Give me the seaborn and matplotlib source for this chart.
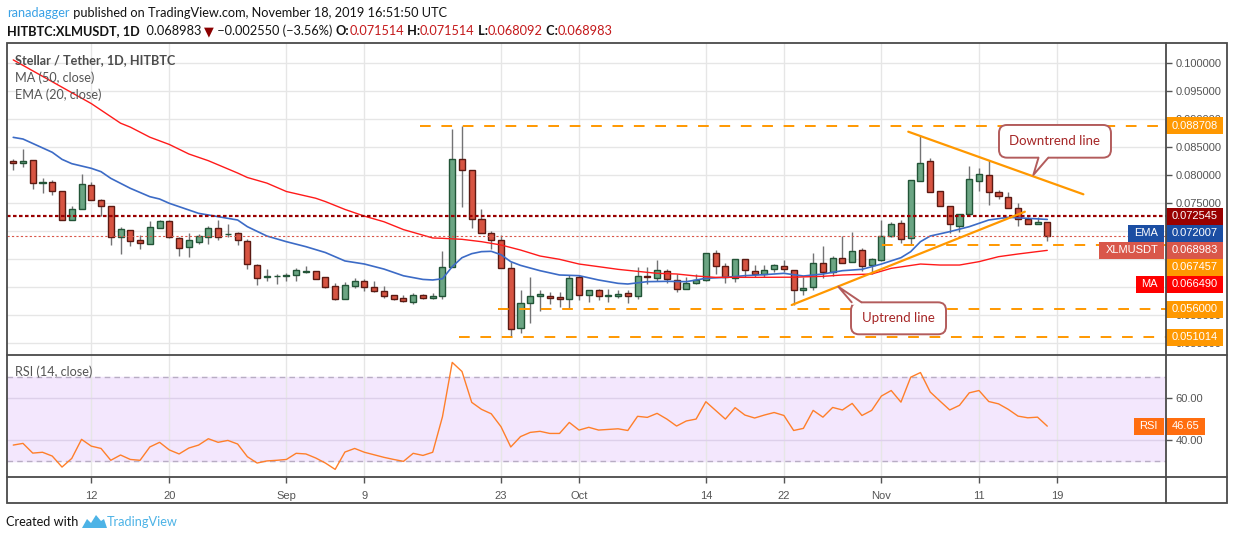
import numpy as np
import pandas as pd
import matplotlib
matplotlib.use("Agg")
import matplotlib.pyplot as plt
import matplotlib.dates as mdates
from matplotlib.patches import Rectangle, FancyBboxPatch, Polygon
import seaborn as sns

# ---- values: XLM/USDT daily on HitBTC, 2019-08-04 .. 2019-11-18 ----
start = pd.Timestamp("2019-08-04")

opens = [
    0.08239, 0.08203, 0.08257, 0.07852, 0.07870, 0.07703, 0.07185, 0.07382, 0.07810, 0.07542,
    0.07435, 0.06893, 0.07007, 0.06828, 0.06769, 0.07054, 0.07167, 0.06870, 0.06703, 0.06792,
    0.06893, 0.07042, 0.06935, 0.06953, 0.06810, 0.06382, 0.06173, 0.06185, 0.06191, 0.06203,
    0.06269, 0.06275, 0.06167, 0.06007, 0.05786, 0.06019, 0.06096, 0.05989, 0.05917, 0.05846,
    0.05792, 0.05733, 0.05846, 0.05792, 0.05828, 0.06346, 0.08275, 0.08078, 0.07203, 0.06953,
    0.06828, 0.06328, 0.05257, 0.05703, 0.05828, 0.05828, 0.05810, 0.05775, 0.06167, 0.05846,
    0.05947, 0.05828, 0.05828, 0.05882, 0.05828, 0.06191, 0.06150, 0.06287, 0.06126, 0.05953,
    0.06060, 0.06114, 0.06596, 0.06364, 0.06150, 0.06489, 0.06275, 0.06221, 0.06310, 0.06364,
    0.06304, 0.05941, 0.05989, 0.06418, 0.06257, 0.06507, 0.06435, 0.06650, 0.06382, 0.06483,
    0.06900, 0.07132, 0.06864, 0.07894, 0.08239, 0.07709, 0.07447, 0.07090, 0.07292, 0.07888,
    0.07989, 0.07685, 0.07608, 0.07400, 0.07203, 0.07114, 0.071514,
]
highs = [
    0.08280, 0.08459, 0.08257, 0.07935, 0.07900, 0.07703, 0.07441, 0.08012, 0.07870, 0.07566,
    0.07435, 0.07066, 0.07019, 0.06917, 0.07173, 0.07185, 0.07191, 0.06882, 0.06953, 0.06941,
    0.07078, 0.07191, 0.07120, 0.06971, 0.06852, 0.06400, 0.06316, 0.06227, 0.06239, 0.06328,
    0.06376, 0.06281, 0.06173, 0.06072, 0.06078, 0.06150, 0.06132, 0.06096, 0.06013, 0.05858,
    0.05846, 0.05882, 0.05870, 0.05888, 0.06638, 0.08810, 0.08871, 0.08078, 0.07388, 0.06995,
    0.06917, 0.06447, 0.05941, 0.06179, 0.05941, 0.05900, 0.05900, 0.06203, 0.06203, 0.05947,
    0.05965, 0.05953, 0.05941, 0.05941, 0.06352, 0.06352, 0.06477, 0.06316, 0.06227, 0.06167,
    0.06227, 0.06596, 0.06656, 0.06418, 0.06489, 0.06489, 0.06388, 0.06388, 0.06406, 0.06471,
    0.06304, 0.06179, 0.06596, 0.06727, 0.06554, 0.06906, 0.06977, 0.06691, 0.06507, 0.07191,
    0.07156, 0.07185, 0.07900, 0.08709, 0.08292, 0.07709, 0.07447, 0.07304, 0.08150, 0.08114,
    0.08263, 0.07733, 0.07685, 0.07501, 0.07239, 0.07239, 0.071514,
]
lows = [
    0.08084, 0.08144, 0.07745, 0.07679, 0.07643, 0.07185, 0.07185, 0.07382, 0.07542, 0.07263,
    0.06751, 0.06590, 0.06733, 0.06679, 0.06769, 0.07042, 0.06876, 0.06554, 0.06537, 0.06763,
    0.06763, 0.06834, 0.06893, 0.06751, 0.06322, 0.06037, 0.06108, 0.06054, 0.06108, 0.06108,
    0.06251, 0.06132, 0.05983, 0.05769, 0.05786, 0.05983, 0.05929, 0.05906, 0.05804, 0.05769,
    0.05733, 0.05697, 0.05780, 0.05780, 0.05786, 0.06346, 0.07429, 0.07054, 0.06953, 0.06668,
    0.06328, 0.05101, 0.05180, 0.05358, 0.05572, 0.05691, 0.05644, 0.05602, 0.05763, 0.05733,
    0.05769, 0.05727, 0.05798, 0.05715, 0.05787, 0.06054, 0.06108, 0.06072, 0.05912, 0.05953,
    0.06048, 0.06108, 0.06227, 0.06060, 0.06090, 0.06179, 0.06179, 0.06179, 0.06263, 0.06269,
    0.05673, 0.05852, 0.05941, 0.06162, 0.06197, 0.06429, 0.06435, 0.06275, 0.06227, 0.06465,
    0.06894, 0.06787, 0.06751, 0.07882, 0.07685, 0.07435, 0.06965, 0.06971, 0.07292, 0.07709,
    0.07459, 0.07560, 0.07400, 0.07084, 0.07114, 0.07114, 0.068092,
]
closes = [
    0.08203, 0.08239, 0.07846, 0.07864, 0.07703, 0.07185, 0.07382, 0.07828, 0.07542, 0.07435,
    0.06893, 0.07025, 0.06810, 0.06774, 0.07060, 0.07167, 0.06882, 0.06685, 0.06828, 0.06899,
    0.07042, 0.06893, 0.06947, 0.06828, 0.06400, 0.06150, 0.06191, 0.06191, 0.06209, 0.06292,
    0.06281, 0.06144, 0.06001, 0.05786, 0.06025, 0.06096, 0.05989, 0.05929, 0.05840, 0.05786,
    0.05751, 0.05846, 0.05792, 0.05828, 0.06346, 0.08275, 0.08078, 0.07203, 0.06953, 0.06828,
    0.06328, 0.05239, 0.05703, 0.05828, 0.05870, 0.05804, 0.05775, 0.06150, 0.05846, 0.05947,
    0.05828, 0.05852, 0.05870, 0.05828, 0.06185, 0.06167, 0.06292, 0.06132, 0.05953, 0.06066,
    0.06114, 0.06596, 0.06370, 0.06167, 0.06489, 0.06292, 0.06221, 0.06292, 0.06382, 0.06310,
    0.05935, 0.05983, 0.06418, 0.06257, 0.06507, 0.06429, 0.06632, 0.06364, 0.06489, 0.06900,
    0.07114, 0.06852, 0.07900, 0.08203, 0.07685, 0.07435, 0.07120, 0.07304, 0.07923, 0.08007,
    0.07685, 0.07614, 0.07400, 0.07203, 0.07114, 0.07153, 0.068983,
]
rsi = [
    37.7, 38.5, 33.9, 34.3, 32.5, 27.3, 31.4, 40.4, 37.2, 36.1,
    30.5, 33.0, 30.9, 30.5, 36.8, 39.0, 35.4, 33.5, 36.3, 37.7,
    40.7, 39.0, 39.9, 38.2, 32.2, 29.2, 30.2, 30.5, 30.9, 33.8,
    33.5, 31.6, 29.2, 26.2, 34.4, 36.1, 34.3, 33.1, 31.9, 30.9,
    30.0, 33.8, 32.8, 34.3, 51.1, 76.8, 72.5, 57.9, 54.6, 52.5,
    46.4, 36.8, 41.7, 43.7, 44.2, 43.2, 43.2, 48.4, 44.8, 46.1,
    44.8, 45.1, 45.4, 44.6, 51.3, 50.8, 52.7, 50.0, 46.7, 49.1,
    50.0, 58.2, 54.1, 50.0, 55.4, 51.9, 50.5, 51.9, 53.1, 51.7,
    44.6, 45.6, 54.1, 50.9, 55.5, 54.3, 57.4, 51.7, 54.1, 60.9,
    63.5, 58.0, 69.8, 72.0, 62.8, 58.5, 54.3, 56.5, 62.4, 63.5,
    58.3, 57.2, 54.6, 51.4, 50.6, 50.9, 46.65,
]

# EMA(20) and MA(50) read at these day offsets from the start
ema_day = [0, 1, 4, 5, 6, 8, 9, 10, 12, 14, 15, 16, 18, 19, 21, 23, 24, 26, 28, 30,
           32, 34, 36, 38, 40, 42, 43, 44, 45, 46, 47, 48, 49, 50, 51, 52, 54, 56, 58, 60,
           62, 63, 65, 67, 69, 71, 73, 75, 77, 79, 81, 83, 85, 87, 89, 91, 92, 93, 94, 96,
           98, 100, 102, 104, 106]
ema_val = [0.08667, 0.08637, 0.08400, 0.08274, 0.08197, 0.08114, 0.08054, 0.07935, 0.07757, 0.07608,
           0.07566, 0.07489, 0.07370, 0.07310, 0.07251, 0.07191, 0.07072, 0.06905, 0.06804, 0.06715,
           0.06610, 0.06460, 0.06405, 0.06315, 0.06195, 0.06130, 0.06120, 0.06142, 0.06358, 0.06518,
           0.06590, 0.06626, 0.06632, 0.06572, 0.06447, 0.06381, 0.06286, 0.06209, 0.06197, 0.06120,
           0.06060, 0.06048, 0.06090, 0.06096, 0.06090, 0.06150, 0.06167, 0.06197, 0.06215, 0.06239,
           0.06191, 0.06227, 0.06286, 0.06310, 0.06405, 0.06518, 0.06626, 0.06804, 0.06905, 0.06983,
           0.07072, 0.07191, 0.07239, 0.07221, 0.07201]
ma_day = [0, 4, 8, 11, 12, 14, 16, 18, 20, 23, 24, 26, 28, 31, 32, 34, 36, 38, 40, 43,
          44, 46, 48, 50, 52, 54, 56, 58, 60, 62, 64, 66, 68, 70, 72, 76, 80, 83, 85, 88,
          90, 93, 95, 97, 99, 101, 103, 106]
ma_val = [0.1005, 0.0966, 0.0927, 0.0892, 0.0885, 0.0867, 0.0854, 0.0837, 0.0825, 0.0803,
          0.0795, 0.0785, 0.0770, 0.0758, 0.0752, 0.0738, 0.0726, 0.0716, 0.0702, 0.0687,
          0.06864, 0.06846, 0.06804, 0.06745, 0.06655, 0.06548, 0.06489, 0.06405, 0.06358, 0.06310,
          0.06274, 0.06239, 0.06227, 0.06191, 0.06167, 0.06167, 0.06170, 0.06185, 0.06209, 0.06227,
          0.06328, 0.06405, 0.06387, 0.06387, 0.06447, 0.06536, 0.06584, 0.06649]

# drawn levels (orange dashed) and the day they start from
level_val = [0.088708, 0.051014, 0.056000, 0.067457]
level_from = [41.7, 45.7, 49.7, 89.1]
resistance = 0.072545
last_price = 0.068983
# trend lines: (day, price) end points
up_day, up_val = [79.8, 103.7], [0.05673, 0.07339]
down_day, down_val = [91.75, 109.7], [0.08768, 0.07650]

# right-axis price labels
lab_price = [0.088708, 0.072545, 0.072007, 0.068983, 0.067457, 0.066490, 0.056000, 0.051014]
lab_color = ["#ff9800", "#990000", "#1b4ea3", "#d9574a", "#ff9800", "#ff0000", "#ff9800", "#ff9800"]
lab_tag = [None, None, "EMA", "XLMUSDT", None, "MA", None, None]

price_ticks = [0.050, 0.055, 0.060, 0.065, 0.070, 0.075, 0.080, 0.085, 0.090, 0.095, 0.100]
tick_dates = ["2019-08-12", "2019-08-20", "2019-09-01", "2019-09-09", "2019-09-23", "2019-10-01",
              "2019-10-14", "2019-10-22", "2019-11-01", "2019-11-11", "2019-11-19"]
tick_labels = ["12", "20", "Sep", "9", "23", "Oct", "14", "22", "Nov", "11", "19"]

# ---- figure ----
sns.set_style("white")
plt.rcParams["font.family"] = ["Lato", "DejaVu Sans"]
NUM = ["Liberation Sans", "DejaVu Sans"]

W, H = 1234, 540
fig = plt.figure(figsize=(W / 100, H / 100), dpi=100)
fig.patch.set_facecolor("white")
ax = fig.add_axes([7 / W, (H - 355) / H, 1159 / W, 312 / H])
ax2 = fig.add_axes([7 / W, (H - 477) / H, 1159 / W, 122 / H], sharex=ax)

dates = start + pd.to_timedelta(np.arange(len(closes)), unit="D")
x = mdates.date2num(dates)
x0 = x[0]

o, hi, lo, c = map(np.array, (opens, highs, lows, closes))
up = c >= o
body_lo = np.minimum(o, c)
body_h = np.maximum(np.abs(c - o), 0.0001)

ax.vlines(x, lo, hi, color="#737375", lw=1, zorder=3)
ax.bar(x[up], body_h[up], bottom=body_lo[up], width=0.62, color="#6ba583",
       edgecolor="#225437", linewidth=1, zorder=4)
ax.bar(x[~up], body_h[~up], bottom=body_lo[~up], width=0.62, color="#d75442",
       edgecolor="#5b1a13", linewidth=1, zorder=4)

ema_df = pd.DataFrame({"x": x0 + np.array(ema_day), "v": ema_val})
ma_df = pd.DataFrame({"x": x0 + np.array(ma_day), "v": ma_val})
sns.lineplot(data=ema_df, x="x", y="v", ax=ax, color="#3c6bc6", lw=1.2, zorder=5)
sns.lineplot(data=ma_df, x="x", y="v", ax=ax, color="#ff1a1a", lw=1.0, zorder=5)

xmin, xmax = x0 - 0.64, x0 + 118.17
ax.set_xlim(xmin, xmax)
ax.set_ylim(0.047804, 0.103518)

for v, d in zip(level_val, level_from):
    ax.hlines(v, x0 + d, xmax, color="#ff9800", lw=1.4, ls=(0, (5.5, 5.5)), zorder=6)
ax.axhline(resistance, color="#990000", lw=1.6, ls=(0, (1.6, 1.1)), zorder=6)
ax.axhline(last_price, color="#d9574a", lw=0.8, ls=(0, (2, 2)), zorder=6)
ax.plot(x0 + np.array(up_day), up_val, color="#ff9800", lw=1.6, zorder=7)
ax.plot(x0 + np.array(down_day), down_val, color="#ff9800", lw=1.6, zorder=7)

# RSI pane
ax2.axhspan(30, 70, color="#f3e7fd", zorder=0)
rsi_df = pd.DataFrame({"x": x, "rsi": rsi})
sns.lineplot(data=rsi_df, x="x", y="rsi", ax=ax2, color="#ff7f2a", lw=1.0, zorder=5)
for lvl in (30, 70):
    ax2.axhline(lvl, color="#b8adc4", lw=1, ls=(0, (4, 3)), zorder=2)
ax2.set_ylim(22.6, 80.3)

# ---- overlay in pixel coordinates (labels, callouts, frame, header) ----
ov = fig.add_axes([0, 0, 1, 1], zorder=10)
ov.set_xlim(0, W)
ov.set_ylim(H, 0)
ov.axis("off")
ov.patch.set_alpha(0)
r = fig.canvas.get_renderer()


def px(a, xv, yv):
    dx, dy = a.transData.transform((xv, yv))
    return dx, H - dy


# right-axis label layout: stack labels that would collide
boxes = []
prev = -1e9
for p, col, tag in sorted(zip(lab_price, lab_color, lab_tag), key=lambda t: -t[0]):
    yc = max(px(ax, x0, p)[1], prev + 17)
    prev = yc
    boxes.append((yc, p, col, tag))


def covered(y):
    return any(b[0] - 8.5 <= y <= b[0] + 8.5 for b in boxes)


# axes styling; price tick labels fully hidden behind a label box are left blank
tick_x = mdates.date2num(pd.to_datetime(tick_dates))
ax2.set_xticks(tick_x)
ax2.set_xticklabels(tick_labels, fontfamily=NUM)
ax.set_yticks(price_ticks)
ylabels = []
for t in price_ticks:
    yt = px(ax, x0, t)[1]
    hidden = all(covered(yt + d) for d in (-4, 0, 4))
    ylabels.append("" if hidden else f"{t:.6f}")
ax.set_yticklabels(ylabels, fontfamily=NUM)
ax2.set_yticks([40, 60])
ax2.set_yticklabels(["40.00", "60.00"], fontfamily=NUM)
for a in (ax, ax2):
    a.set_xlabel("")
    a.set_ylabel("")
    a.yaxis.tick_right()
    for s in a.spines.values():
        s.set_visible(False)
    a.set_axisbelow(True)
    a.tick_params(axis="y", right=True, length=4, width=1, color="#555555",
                  labelsize=8, labelcolor="#555555", pad=3)
ax.tick_params(axis="x", bottom=False, labelbottom=False)
ax2.tick_params(axis="x", bottom=True, length=4, width=1, color="#555555",
                labelsize=8, labelcolor="#555555", pad=6)
ax.grid(True, color="#e6e6e6", lw=1)
ax2.grid(axis="x", color="#e6e6e6", lw=1)
ax2.grid(axis="y", color="#ddd0ea", lw=1)


def width_of(t):
    return t.get_window_extent(r).width


def fit_size(s, target, weight="normal", family=None):
    t = ov.text(0, 0, s, fontsize=10, fontweight=weight, family=family)
    w = width_of(t)
    t.remove()
    return 10 * target / w


def value_box(yc, text, color, tag=None, x_left=1166):
    t = ov.text(x_left + 5.5, yc, text, color="white", fontsize=8, family=NUM,
                va="center", ha="left", zorder=13)
    ov.add_patch(Rectangle((x_left, yc - 8.5), width_of(t) + 11, 17, fc=color, ec="none", zorder=12))
    if tag:
        tt = ov.text(1164 - 6, yc, tag, color="white", fontsize=8, family=NUM,
                     va="center", ha="right", zorder=13)
        tw = width_of(tt) + 12
        ov.add_patch(Rectangle((1164 - tw, yc - 8.5), tw, 17, fc=color, ec="none", zorder=12))


for yc, p, col, tag in boxes:
    value_box(yc, f"{p:.6f}", col, tag)

rsi_y = px(ax2, x[-1], rsi[-1])[1]
value_box(rsi_y, f"{rsi[-1]:.2f}", "#ff6d0f", "RSI")


def callout(days, vals, base_days, tip, text, target_w):
    xa, ya = px(ax, x0 + days[0], vals[0])
    xb, yb = px(ax, x0 + days[1], vals[1])
    tx, ty = px(ax, x0 + tip[0], tip[1])
    edge = "#b35c5c"
    ov.add_patch(FancyBboxPatch((xa, ya), xb - xa, yb - ya, boxstyle="round,pad=0,rounding_size=8",
                                fc="white", ec=edge, lw=1.4, zorder=8))
    edge_y = yb if ty > yb else ya
    inside = -2.5 if ty > yb else 2.5
    b0 = px(ax, x0 + base_days[0], vals[0])[0]
    b1 = px(ax, x0 + base_days[1], vals[0])[0]
    ov.add_patch(Polygon([(b0, edge_y + inside), (b0, edge_y), (tx, ty), (b1, edge_y), (b1, edge_y + inside)],
                         closed=True, fc="white", ec="none", zorder=9))
    ov.plot([b0, tx, b1], [edge_y, ty, edge_y], color=edge, lw=1.4, zorder=9)
    ov.text((xa + xb) / 2, (ya + yb) / 2, text, color="#a52626",
            fontsize=fit_size(text, target_w), ha="center", va="center", zorder=10)


callout((101.05, 112.53), (0.08888, 0.08304), (105.1, 106.1), (104.57, 0.07995), "Downtrend line", 91)
callout((85.88, 95.62), (0.05721, 0.05150), (85.95, 86.95), (84.58, 0.0600), "Uptrend line", 73)

# pane legends
leg_size = fit_size("Stellar / Tether, 1D, HITBTC", 160, "bold")
ov.text(15, 60.5, "Stellar / Tether, 1D, HITBTC", color="#4d4d4d", fontweight="bold",
        fontsize=leg_size, va="center", zorder=11)
ov.text(15, 77.5, "MA (50, close)", color="#555555", fontsize=leg_size, va="center", zorder=11)
ov.text(15, 94.5, "EMA (20, close)", color="#555555", fontsize=leg_size, va="center", zorder=11)
ov.text(15, 372, "RSI (14, close)", color="#555555", fontsize=leg_size, va="center", zorder=11)

# frame
fc = "#4a4a4a"
ov.add_patch(Rectangle((7, 43), 1220, 460, fill=False, ec=fc, lw=1.3, zorder=20))
ov.plot([1166, 1166], [43, 503], color=fc, lw=1.3, zorder=20)
ov.plot([7, 1227], [355, 355], color=fc, lw=1.3, zorder=20)
ov.plot([7, 1227], [477, 477], color=fc, lw=1.3, zorder=20)


def chain(xs, y, pieces, size):
    for s, col, wt in pieces:
        t = ov.text(xs, y, s, color=col, fontweight=wt, fontsize=size, va="center", ha="left",
                    family=["Lato", "DejaVu Sans"], zorder=11)
        xs += width_of(t)


line1 = "ranadagger published on TradingView.com, November 18, 2019 16:51:50 UTC"
hsize = fit_size(line1, 439)
chain(7, 13, [("ranadagger", "#3aa2e6", "normal"),
              (" published on TradingView.com, November 18, 2019 16:51:50 UTC", "#131313", "normal")], hsize)
red = "#c4191b"
chain(7, 31, [("HITBTC:XLMUSDT, 1D", "#131313", "bold"), ("  0.068983 ", "#131313", "normal"),
              ("▼", "#8b0000", "normal"), (" \u22120.002550 (\u22123.56%) ", "#131313", "normal"),
              ("O:", "#131313", "bold"), ("0.071514", red, "normal"),
              (" H:", "#131313", "bold"), ("0.071514", red, "normal"),
              (" L:", "#131313", "bold"), ("0.068092", red, "normal"),
              (" C:", "#131313", "bold"), ("0.068983", red, "normal")], hsize)

# footer
csize = fit_size("Created with", 73)
ov.text(6, 522, "Created with", color="#131313", fontsize=csize, va="center")
ov.add_patch(Polygon([(82, 528), (87, 519), (91, 523), (96, 515), (101, 521), (104, 519), (107, 528)],
                     closed=True, fc="#4db3e6", ec="none"))
ov.text(107, 522, "TradingView", color="#4db3e6", fontsize=fit_size("TradingView", 71), va="center")

fig.savefig("out.png", dpi=100)
